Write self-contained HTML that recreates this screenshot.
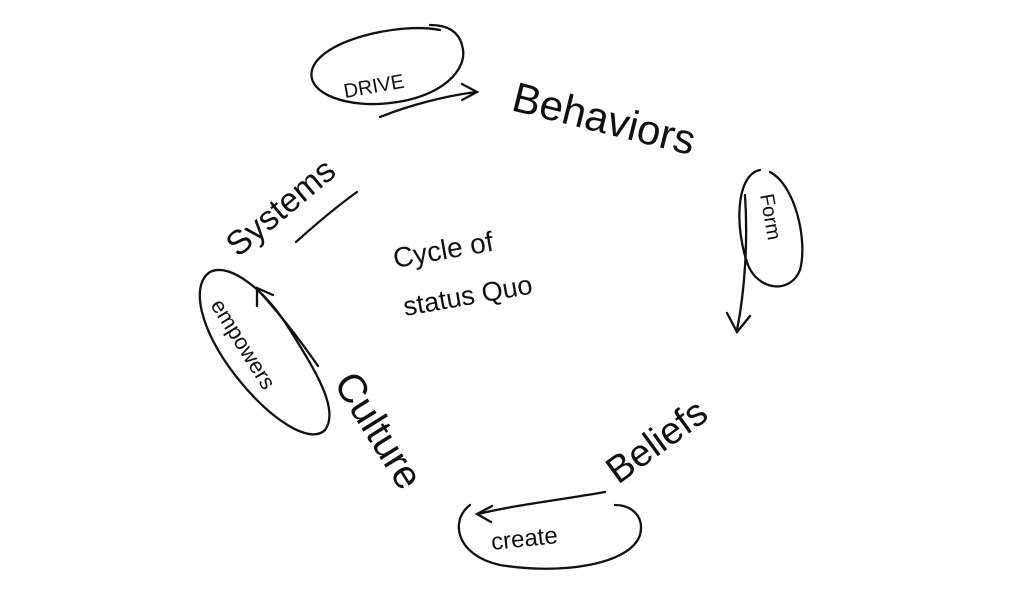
<!DOCTYPE html>
<html><head><meta charset="utf-8"><style>
html,body{margin:0;padding:0;background:#fff;}
svg{display:block;}
text{font-family:"Liberation Sans",sans-serif;fill:#111;}
</style></head><body>
<svg width="1024" height="594" viewBox="0 0 1024 594" xmlns="http://www.w3.org/2000/svg">
<g fill="none" stroke="#111" stroke-width="2.3" stroke-linecap="round">
<path d="M440 30 C400 22 320 40 312 70 C306 95 350 108 390 103 C440 98 470 70 462 45 C458 30 445 25 430 25"/>
<path d="M380 117 C410 105 445 96 476 92"/>
<path d="M462 84 L477 92 L462 100"/>
<path d="M760 170 C735 175 735 230 748 265 C758 290 790 295 800 270 C808 240 795 185 770 172"/>
<path d="M745 195 C748 240 745 290 737 330"/>
<path d="M727 313 L737 332 L750 316"/>
<path d="M470 505 C450 520 455 555 500 565 C560 575 630 565 640 535 C645 515 630 505 615 505"/>
<path d="M605 492 C560 500 515 505 478 514"/>
<path d="M492 506 L477 514 L491 522"/>
<path d="M210 272 C190 285 200 330 235 375 C270 420 310 445 325 430 C340 410 315 370 290 330 C265 290 230 262 210 272"/>
<path d="M318 366 C300 340 278 312 258 290"/>
<path d="M257 306 L257 288 L273 295"/>
<path d="M296 242 C316 224 336 207 357 192"/>
</g>
<text x="345" y="98" font-size="20" transform="rotate(-10 345 98)">DRIVE</text>
<text x="510" y="110" font-size="42" transform="rotate(14 510 110)">Behaviors</text>
<text x="760" y="195" font-size="20" transform="rotate(80 760 195)">Form</text>
<text x="618" y="485" font-size="38" transform="rotate(-36 618 485)">Beliefs</text>
<text x="492" y="550" font-size="24" transform="rotate(-6 492 550)">create</text>
<text x="333" y="383" font-size="40" transform="rotate(58 333 383)">Culture</text>
<text x="210" y="305" font-size="22" transform="rotate(58 210 305)">empowers</text>
<text x="238" y="258" font-size="34" transform="rotate(-40 238 258)">Systems</text>
<text x="395" y="268" font-size="28" transform="rotate(-10 395 268)">Cycle of</text>
<text x="405" y="316" font-size="27" transform="rotate(-10 405 316)">status Quo</text>
</svg>
</body></html>
